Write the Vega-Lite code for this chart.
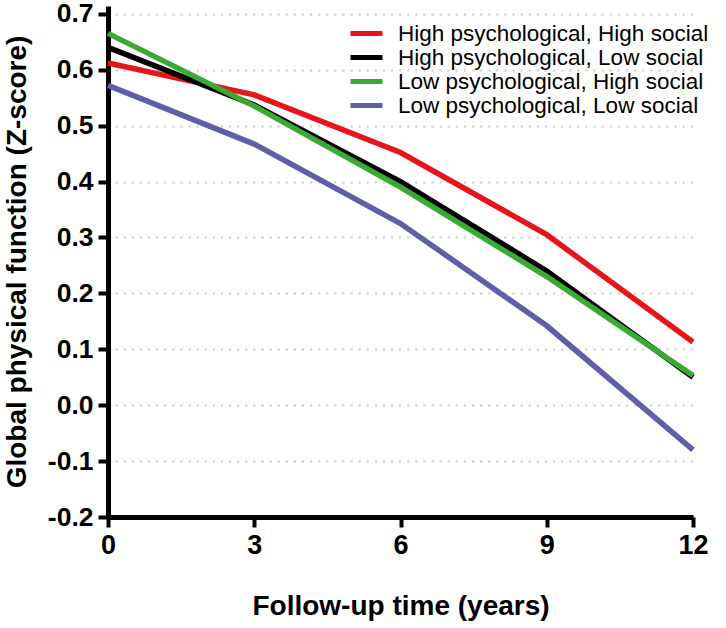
{
  "$schema": "https://vega.github.io/schema/vega-lite/v6.json",
  "autosize": {"type": "none"},
  "width": 585,
  "height": 511,
  "padding": {"left": 108, "top": 6, "right": 33, "bottom": 111},
  "background": "white",
  "data": {
    "values": [
      {"group": "High psychological, High social", "year": 0, "z": 0.612},
      {"group": "High psychological, High social", "year": 3, "z": 0.555},
      {"group": "High psychological, High social", "year": 6, "z": 0.452},
      {"group": "High psychological, High social", "year": 9, "z": 0.305},
      {"group": "High psychological, High social", "year": 12, "z": 0.113},
      {"group": "High psychological, Low social", "year": 0, "z": 0.640},
      {"group": "High psychological, Low social", "year": 3, "z": 0.537},
      {"group": "High psychological, Low social", "year": 6, "z": 0.400},
      {"group": "High psychological, Low social", "year": 9, "z": 0.240},
      {"group": "High psychological, Low social", "year": 12, "z": 0.050},
      {"group": "Low psychological, High social", "year": 0, "z": 0.665},
      {"group": "Low psychological, High social", "year": 3, "z": 0.535},
      {"group": "Low psychological, High social", "year": 6, "z": 0.390},
      {"group": "Low psychological, High social", "year": 9, "z": 0.230},
      {"group": "Low psychological, High social", "year": 12, "z": 0.053},
      {"group": "Low psychological, Low social", "year": 0, "z": 0.572},
      {"group": "Low psychological, Low social", "year": 3, "z": 0.467},
      {"group": "Low psychological, Low social", "year": 6, "z": 0.325},
      {"group": "Low psychological, Low social", "year": 9, "z": 0.142},
      {"group": "Low psychological, Low social", "year": 12, "z": -0.080}
    ]
  },
  "mark": {"type": "line", "strokeWidth": 5.5, "clip": false},
  "encoding": {
    "x": {
      "field": "year",
      "type": "quantitative",
      "scale": {"domain": [0, 12], "nice": false, "zero": false},
      "axis": {
        "values": [0, 3, 6, 9, 12],
        "title": "Follow-up time (years)",
        "titleFontSize": 28,
        "titlePadding": 34,
        "labelFontSize": 27,
        "labelPadding": 5,
        "labelFlush": false,
        "grid": false
      }
    },
    "y": {
      "field": "z",
      "type": "quantitative",
      "scale": {"domain": [-0.2, 0.714], "nice": false, "zero": false},
      "axis": {
        "values": [-0.2, -0.1, 0, 0.1, 0.2, 0.3, 0.4, 0.5, 0.6, 0.7],
        "labelExpr": "datum.value < 0 ? '-' + format(-datum.value, '.1f') : format(datum.value, '.1f')",
        "title": "Global physical function (Z-score)",
        "titleFontSize": 28,
        "titleX": -77,
        "labelFontSize": 26.5,
        "labelPadding": 5,
        "labelDy": 4,
        "labelFlush": false,
        "grid": true,
        "gridColor": "#d4d4d4",
        "gridWidth": 2.5,
        "gridDash": [0.1, 8],
        "gridCap": "round"
      }
    },
    "color": {
      "field": "group",
      "type": "nominal",
      "sort": [
        "High psychological, High social",
        "High psychological, Low social",
        "Low psychological, High social",
        "Low psychological, Low social"
      ],
      "scale": {"range": ["#e8141b", "#000000", "#3aaa35", "#5f5fa8"]},
      "legend": {
        "title": null,
        "orient": "none",
        "legendX": 246,
        "legendY": 15,
        "symbolType": "M-1.6,0H1.6",
        "symbolSize": 400,
        "symbolStrokeWidth": 5,
        "labelFontSize": 22.5,
        "labelFont": "Liberation Sans",
        "labelColor": "#000000",
        "labelOffset": 19,
        "rowPadding": -7,
        "labelLimit": 400
      }
    }
  },
  "config": {
    "font": "Liberation Sans",
    "view": {"stroke": null},
    "axis": {
      "labelFont": "Liberation Sans",
      "titleFont": "Liberation Sans",
      "domainColor": "#000000",
      "domainWidth": 5,
      "tickColor": "#000000",
      "tickWidth": 4,
      "tickSize": 10,
      "labelColor": "#000000",
      "titleColor": "#000000",
      "labelFontWeight": "bold",
      "titleFontWeight": "bold"
    }
  }
}
